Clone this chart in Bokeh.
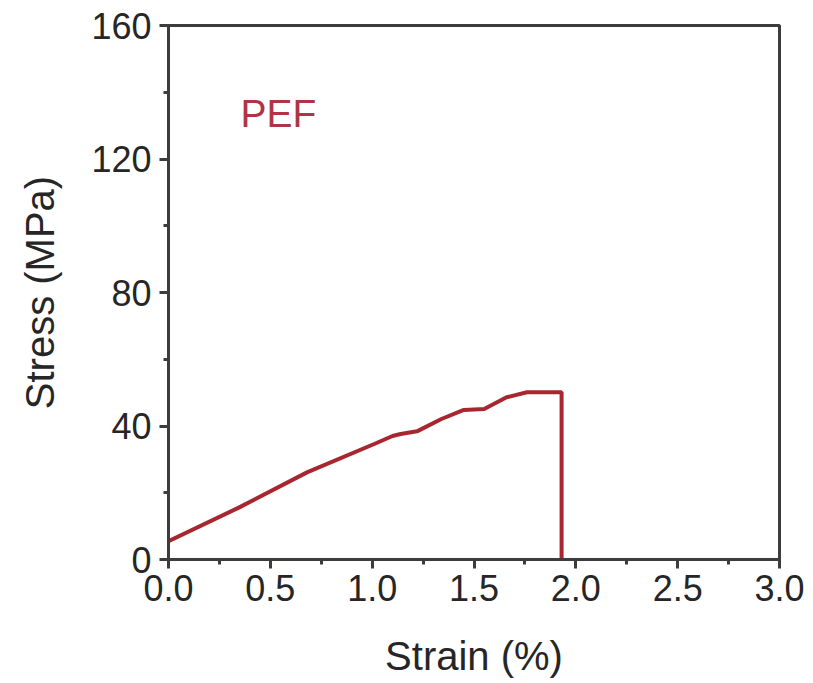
from bokeh.plotting import figure
from bokeh.models import Range1d, SingleIntervalTicker, Label, ColumnDataSource, PrintfTickFormatter
from bokeh.embed import file_html
from bokeh.resources import INLINE

strain = [0.0, 0.35, 0.68, 1.01, 1.10, 1.14, 1.22, 1.34, 1.45, 1.55, 1.66, 1.76, 1.93, 1.93]
stress = [5.5, 15.7, 26.1, 34.6, 37.0, 37.6, 38.4, 42.1, 44.8, 45.1, 48.6, 50.1, 50.1, 0.0]

x_label = "Strain (%)"
y_label = "Stress (MPa)"
series_name = "PEF"

FONT = "Liberation Sans"
AXIS_COL = "#3c3c3c"
TEXT_COL = "#262626"

p = figure(width=805, height=681, output_backend="svg", toolbar_location=None,
           x_range=Range1d(0, 3), y_range=Range1d(0, 160),
           min_border_left=168, min_border_right=26, min_border_top=25, min_border_bottom=122)
p.frame_width = 611
p.frame_height = 534

src = ColumnDataSource(dict(x=strain, y=stress))
p.line("x", "y", source=src, line_color="#A8262F", line_width=4)

p.xaxis.ticker = SingleIntervalTicker(interval=0.5, num_minor_ticks=2)
p.yaxis.ticker = SingleIntervalTicker(interval=40, num_minor_ticks=2)
p.xaxis.formatter = PrintfTickFormatter(format="%.1f")
p.xaxis.axis_label = x_label
p.yaxis.axis_label = y_label

for ax in (p.xaxis, p.yaxis):
    ax.axis_line_color = AXIS_COL
    ax.axis_line_width = 3
    ax.major_tick_line_color = AXIS_COL
    ax.major_tick_line_width = 3
    ax.minor_tick_line_color = AXIS_COL
    ax.minor_tick_line_width = 3
    ax.major_tick_out = 9
    ax.major_tick_in = 0
    ax.minor_tick_out = 5
    ax.minor_tick_in = 0
    ax.major_label_text_font = FONT
    ax.major_label_text_font_size = "36px"
    ax.major_label_text_color = TEXT_COL
    ax.axis_label_text_font = FONT
    ax.axis_label_text_font_size = "40px"
    ax.axis_label_text_font_style = "normal"
    ax.axis_label_text_color = TEXT_COL

p.xaxis.major_label_standoff = 6
p.xaxis.axis_label_standoff = 30
p.yaxis.major_label_standoff = 8
p.yaxis.axis_label_standoff = 26

p.xgrid.visible = False
p.ygrid.visible = False
p.outline_line_color = AXIS_COL
p.outline_line_width = 3
p.outline_line_alpha = 1

p.add_layout(Label(x=0.353, y=133.5, text=series_name, text_font=FONT, text_font_size="39px",
                   text_color="#B03446", text_baseline="middle"))

open("out.html", "w").write(file_html(p, INLINE))
